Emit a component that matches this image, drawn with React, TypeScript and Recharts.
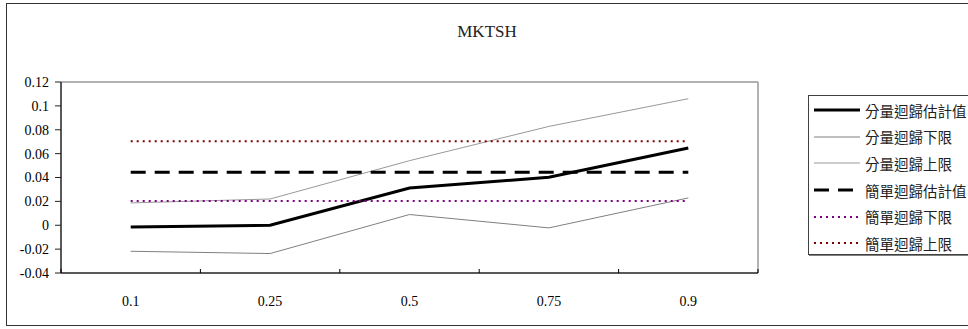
import React from 'react';
import { LineChart, Line, XAxis, YAxis, Legend, CartesianGrid } from 'recharts';

const quantiles = ['0.1', '0.25', '0.5', '0.75', '0.9'];
const qrEstimate = [-0.0014, 0.0, 0.0312, 0.0402, 0.0647];
const qrLower = [-0.0218, -0.0237, 0.009, -0.0022, 0.0229];
const qrUpper = [0.0187, 0.022, 0.0541, 0.0828, 0.106];
const olsEstimate = [0.0443, 0.0443, 0.0443, 0.0443, 0.0443];
const olsLower = [0.0203, 0.0203, 0.0203, 0.0203, 0.0203];
const olsUpper = [0.0703, 0.0703, 0.0703, 0.0703, 0.0703];
const yTicks = [-0.04, -0.02, 0, 0.02, 0.04, 0.06, 0.08, 0.1, 0.12];

const data = quantiles.map((q, i) => ({
    q,
    qrEstimate: qrEstimate[i],
    qrLower: qrLower[i],
    qrUpper: qrUpper[i],
    olsEstimate: olsEstimate[i],
    olsLower: olsLower[i],
    olsUpper: olsUpper[i],
}));

const series = [
    { key: 'qrEstimate', name: '分量迴歸估計值', color: '#000000', width: 3, dash: undefined },
    { key: 'qrLower', name: '分量迴歸下限', color: '#808080', width: 1, dash: undefined },
    { key: 'qrUpper', name: '分量迴歸上限', color: '#999999', width: 1, dash: undefined },
    { key: 'olsEstimate', name: '簡單迴歸估計值', color: '#000000', width: 3, dash: '15 9' },
    { key: 'olsLower', name: '簡單迴歸下限', color: '#800080', width: 2, dash: '2 4' },
    { key: 'olsUpper', name: '簡單迴歸上限', color: '#800000', width: 2, dash: '2 4' },
];

const FONT = '"Liberation Serif", "Times New Roman", "Noto Sans CJK TC", serif';

// label in the band centre, small tick marks on the band edges
const QuantileTick = (props: any) => {
    const { x, y, payload, index, visibleTicksCount } = props;
    const off = payload.offset || 0;
    return (
        <g>
            <line x1={x - off} x2={x - off} y1={y - 4} y2={y} stroke="#000" />
            {index === visibleTicksCount - 1 && (
                <line x1={x + off} x2={x + off} y1={y - 4} y2={y} stroke="#000" />
            )}
            <text x={x} y={y + 33} textAnchor="middle" fontSize={14} fontFamily={FONT} fill="#000">
                {payload.value}
            </text>
        </g>
    );
};

const LegendBox = (props: any) => {
    const keys = (props.payload || []).map((p: any) => p.dataKey);
    return (
        <div
            style={{
                border: '1px solid #404040',
                borderRight: 'none',
                background: '#fff',
                width: 170,
                height: 160,
                boxSizing: 'border-box',
                paddingTop: 1,
                boxShadow: '1px 1px 0 #808080',
            }}
        >
            {series
                .filter((s) => keys.includes(s.key))
                .map((s) => (
                    <div key={s.key} style={{ display: 'flex', alignItems: 'center', height: 26.6 }}>
                        <svg width={52} height={10} style={{ marginLeft: 4 }}>
                            <line
                                x1={1}
                                x2={47}
                                y1={5}
                                y2={5}
                                stroke={s.color}
                                strokeWidth={s.width}
                                strokeDasharray={s.dash}
                            />
                        </svg>
                        <span style={{ fontFamily: FONT, fontSize: 14.5, color: '#222', whiteSpace: 'nowrap' }}>
                            {s.name}
                        </span>
                    </div>
                ))}
        </div>
    );
};

export default function App() {
    return (
        <div style={{ position: 'absolute', left: 0, top: 0, width: 968, height: 329, background: '#fff', overflow: 'hidden' }}>
            <div
                style={{
                    position: 'absolute',
                    left: 6,
                    top: 3,
                    width: 980,
                    height: 323,
                    border: '1.5px solid #333',
                    boxSizing: 'border-box',
                }}
            />
            <div
                style={{
                    position: 'absolute',
                    left: 0,
                    width: 974,
                    top: 22,
                    textAlign: 'center',
                    fontFamily: FONT,
                    fontSize: 17,
                    lineHeight: '20px',
                    color: '#222',
                }}
            >
                MKTSH
            </div>
            <div style={{ position: 'absolute', left: 0, top: 0 }}>
                <LineChart
                    width={968}
                    height={329}
                    data={data}
                    margin={{ top: 82, right: 210, left: 0, bottom: 0 }}
                >
                    {/* plot-area frame: top edge and right edge */}
                    <CartesianGrid
                        stroke="#999"
                        strokeWidth={1.5}
                        horizontalValues={[0.12]}
                        verticalCoordinatesGenerator={(p: any) => [p.offset.left + p.offset.width]}
                    />
                    <XAxis
                        dataKey="q"
                        scale="band"
                        height={56}
                        tickLine={false}
                        tickSize={0}
                        tickMargin={0}
                        axisLine={{ stroke: '#222', strokeWidth: 1.5 }}
                        tick={<QuantileTick />}
                        interval={0}
                    />
                    <YAxis
                        width={61}
                        domain={[-0.04, 0.12]}
                        ticks={yTicks}
                        interval={0}
                        tickSize={6}
                        tickMargin={6}
                        axisLine={{ stroke: '#222', strokeWidth: 1.5 }}
                        tickLine={{ stroke: '#222' }}
                        tick={{ fontSize: 14, fontFamily: FONT, fill: '#000' }}
                        tickFormatter={(v: number) => String(v)}
                    />
                    <Legend
                        layout="vertical"
                        verticalAlign="middle"
                        align="center"
                        content={<LegendBox />}
                        wrapperStyle={{ position: 'absolute', left: 808, top: 95, width: 170 }}
                    />
                    {series.map((s) => (
                        <Line
                            key={s.key}
                            type="linear"
                            dataKey={s.key}
                            name={s.name}
                            stroke={s.color}
                            strokeWidth={s.width}
                            strokeDasharray={s.dash}
                            dot={false}
                            activeDot={false}
                            isAnimationActive={false}
                        />
                    ))}
                </LineChart>
            </div>
        </div>
    );
}
